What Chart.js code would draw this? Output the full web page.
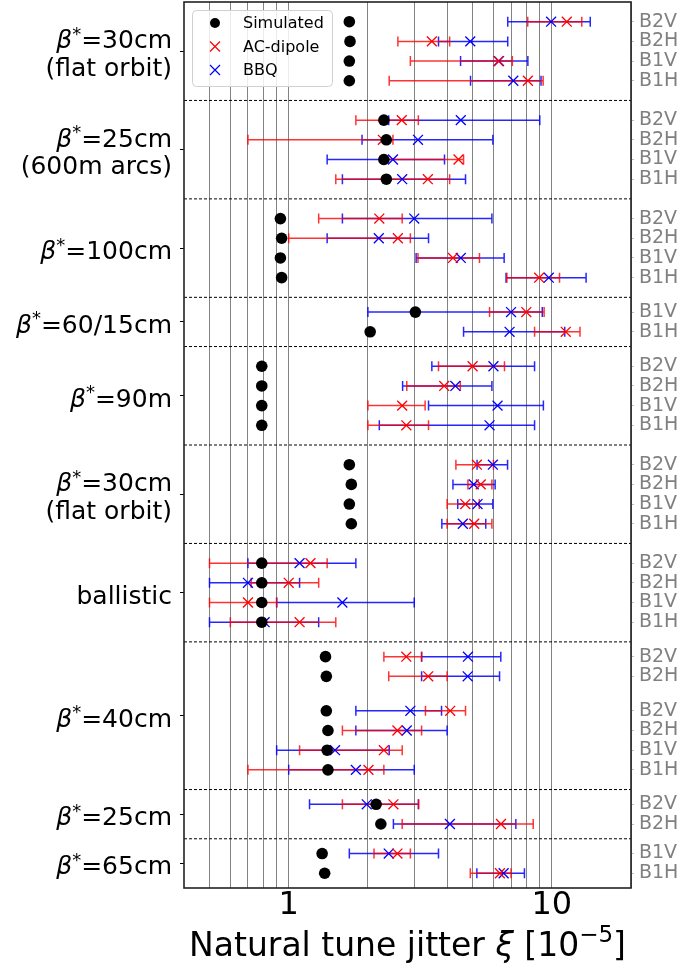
<!DOCTYPE html>
<html>
<head>
<meta charset="utf-8">
<script src="https://cdn.jsdelivr.net/npm/chart.js@4.4.1/dist/chart.umd.min.js"></script>
<style>
  html, body { margin: 0; padding: 0; background: #fff; }
  #wrap { width: 684px; height: 968px; }
</style>
</head>
<body>
<div id="wrap"><canvas id="jitterChart" width="684" height="968"></canvas></div>
<script>
// rows, top to bottom (y position in row units, 0 = top of the axes)
var rowPos = [1, 2, 3, 4, 6, 7, 8, 9, 11, 12, 13, 14, 15.75, 16.75,
  18.5, 19.5, 20.5, 21.5, 23.5, 24.5, 25.5, 26.5, 28.5, 29.5, 30.5, 31.5,
  33.25, 34.25, 36, 37, 38, 39, 40.75, 41.75, 43.25, 44.25];
var rowLabels = ['B2V', 'B2H', 'B1V', 'B1H', 'B2V', 'B2H', 'B1V', 'B1H',
  'B2V', 'B2H', 'B1V', 'B1H', 'B1V', 'B1H', 'B2V', 'B2H', 'B1V', 'B1H',
  'B2V', 'B2H', 'B1V', 'B1H', 'B2V', 'B2H', 'B1V', 'B1H',
  'B2V', 'B2H', 'B2V', 'B2H', 'B1V', 'B1H', 'B2V', 'B2H', 'B1V', 'B1H'];

var simulated = [1.70, 1.71, 1.70, 1.70, 2.30, 2.35, 2.30, 2.35,
  0.93, 0.94, 0.93, 0.94, 3.03, 2.04, 0.79, 0.79, 0.79, 0.79,
  1.70, 1.73, 1.70, 1.73, 0.79, 0.79, 0.79, 0.79,
  1.38, 1.39, 1.39, 1.41, 1.40, 1.41, 2.15, 2.24, 1.34, 1.37];

var acValue = [11.4, 3.50, 6.27, 8.11, 2.69, 2.28, 4.42, 3.38,
  2.21, 2.60, 4.21, 8.95, 8.0, 11.3, 5.0, 3.90, 2.70, 2.80,
  5.19, 5.37, 4.69, 5.07, 1.21, 1.0, 0.70, 1.10,
  2.80, 3.39, 4.11, 2.59, 2.30, 2.01, 2.50, 6.41, 2.59, 6.35];
var acLow = [8.1, 2.60, 2.90, 2.41, 1.80, 0.70, 2.26, 1.51,
  1.30, 1.0, 3.10, 6.75, 5.80, 8.6, 3.71, 2.81, 2.0, 2.0,
  4.32, 4.80, 4.0, 4.0, 0.5, 0.72, 0.5, 0.6,
  2.30, 2.40, 3.31, 1.60, 1.10, 0.70, 1.60, 2.70, 2.11, 4.90];
var acHigh = [13.0, 4.09, 7.08, 9.27, 3.11, 2.49, 4.62, 4.09,
  2.70, 2.90, 5.31, 10.7, 9.35, 12.8, 6.61, 4.49, 3.30, 3.40,
  6.0, 5.92, 5.3, 5.92, 1.40, 1.30, 0.90, 1.51,
  3.20, 4.0, 4.70, 3.20, 2.70, 2.30, 3.12, 8.50, 2.90, 7.0];

var bbqValue = [9.94, 4.90, 6.30, 7.14, 4.51, 3.10, 2.49, 2.70,
  3.0, 2.20, 4.51, 9.74, 7.0, 6.91, 6.0, 4.30, 6.22, 5.80,
  5.97, 5.05, 5.22, 4.59, 1.10, 0.70, 1.60, 0.81,
  4.80, 4.79, 2.90, 2.81, 1.50, 1.80, 1.98, 4.10, 2.40, 6.56];
var bbqLow = [6.8, 3.71, 4.50, 4.91, 2.40, 1.90, 1.40, 1.60,
  1.60, 1.40, 3.05, 6.70, 2.0, 4.62, 3.50, 2.71, 3.40, 2.21,
  5.2, 4.21, 4.39, 3.82, 0.70, 0.5, 0.90, 0.5,
  3.20, 3.20, 1.80, 1.80, 0.90, 1.0, 1.20, 2.50, 1.70, 5.19];
var bbqHigh = [14.0, 6.80, 8.11, 9.10, 9.0, 5.97, 3.91, 4.70,
  5.92, 3.40, 6.59, 13.5, 9.2, 11.2, 8.6, 5.92, 9.29, 8.6,
  6.79, 6.09, 5.97, 5.61, 1.80, 1.10, 3.0, 1.30,
  6.40, 6.33, 3.81, 4.0, 2.41, 3.0, 3.11, 7.30, 3.71, 7.87];

// settings, grouped on the left axis
var groupLabels = [['β*=30cm', '(flat orbit)'], ['β*=25cm', '(600m arcs)'],
  ['β*=100cm'], ['β*=60/15cm'], ['β*=90m'], ['β*=30cm', '(flat orbit)'],
  ['ballistic'], ['β*=40cm'], ['β*=25cm'], ['β*=65cm']];
var groupPos = [2.5, 7.5, 12.5, 16.25, 20, 25, 30, 36.25, 41.25, 43.75];
var separators = [5, 10, 15, 17.5, 22.5, 27.5, 32.5, 40, 42.5];

var xGridTicks = [0.5, 0.6, 0.7, 0.8, 0.9, 1, 2, 3, 4, 5, 6, 7, 8, 9, 10, 20];
var xTickLabels = { 1: '1', 10: '10' };

var FONT = '"DejaVu Sans"';
Chart.defaults.font.family = FONT;

function toPoints(xs) {
  return xs.map(function(v, i) { return { x: v, y: rowPos[i] }; });
}

// "β*=..." text with italic beta and superscript star
function richParts(text, size) {
  if (text.indexOf('β*') === 0) {
    return [
      { t: 'β', font: 'italic ' + size + 'px ' + FONT, rise: 0 },
      { t: '*', font: Math.round(size * 0.7) + 'px ' + FONT, rise: size * 0.34 },
      { t: text.slice(2), font: size + 'px ' + FONT, rise: 0 }
    ];
  }
  return [{ t: text, font: size + 'px ' + FONT, rise: 0 }];
}

function drawParts(ctx, parts, x, y, align) {
  var total = 0;
  parts.forEach(function(p) { ctx.font = p.font; p.w = ctx.measureText(p.t).width; total += p.w; });
  var cx = align === 'right' ? x - total : (align === 'center' ? x - total / 2 : x);
  ctx.textBaseline = 'alphabetic';
  ctx.textAlign = 'left';
  parts.forEach(function(p) {
    ctx.font = p.font;
    ctx.fillText(p.t, cx, y - p.rise);
    cx += p.w;
  });
}

function noPad(scale) {
  scale.paddingTop = 0;
  scale.paddingBottom = 0;
}

var decorations = {
  id: 'decorations',
  beforeDatasetsDraw: function(chart) {
    var ctx = chart.ctx, xs = chart.scales.x, ys = chart.scales.y, area = chart.chartArea;
    ctx.save();
    ctx.beginPath();
    ctx.rect(area.left, area.top, area.right - area.left, area.bottom - area.top);
    ctx.clip();

    // dashed separators between settings
    ctx.strokeStyle = '#000';
    ctx.lineWidth = 1;
    ctx.setLineDash([3, 2]);
    separators.forEach(function(s) {
      var py = ys.getPixelForValue(s);
      ctx.beginPath();
      ctx.moveTo(area.left, py);
      ctx.lineTo(area.right, py);
      ctx.stroke();
    });
    ctx.setLineDash([]);

    // error bars, BBQ first then AC-dipole on top
    function bars(lo, hi, color) {
      ctx.strokeStyle = color;
      ctx.lineWidth = 1.5;
      for (var i = 0; i < rowPos.length; i++) {
        if (lo[i] == null) continue;
        var py = ys.getPixelForValue(rowPos[i]);
        var x1 = xs.getPixelForValue(lo[i]);
        var x2 = xs.getPixelForValue(hi[i]);
        ctx.beginPath();
        ctx.moveTo(x1, py); ctx.lineTo(x2, py);
        ctx.moveTo(x1, py - 5); ctx.lineTo(x1, py + 5);
        ctx.moveTo(x2, py - 5); ctx.lineTo(x2, py + 5);
        ctx.stroke();
      }
    }
    bars(bbqLow, bbqHigh, 'rgba(0,0,255,0.85)');
    bars(acLow, acHigh, 'rgba(255,0,0,0.8)');
    ctx.restore();
  },
  afterDraw: function(chart) {
    var ctx = chart.ctx, ys = chart.scales.y, area = chart.chartArea;
    ctx.save();

    // frame
    ctx.strokeStyle = '#222';
    ctx.lineWidth = 1.6;
    ctx.strokeRect(area.left, area.top, area.right - area.left, area.bottom - area.top);

    // left group labels
    ctx.fillStyle = '#000';
    groupLabels.forEach(function(lines, g) {
      var c = ys.getPixelForValue(groupPos[g]);
      var base = lines.length === 1 ? c + 11 : c - 3;
      lines.forEach(function(line, k) {
        drawParts(ctx, richParts(line, 25), 172, base + k * 27.5, 'right');
      });
    });

    // x axis title
    drawParts(ctx, [
      { t: 'Natural tune jitter ', font: '33px ' + FONT, rise: 0 },
      { t: 'ξ', font: 'italic 33px ' + FONT, rise: 0 },
      { t: ' [10', font: '33px ' + FONT, rise: 0 },
      { t: '−5', font: '23px ' + FONT, rise: 13.7 },
      { t: ']', font: '33px ' + FONT, rise: 0 }
    ], (area.left + area.right) / 2, 956, 'center');

    // legend
    var lx = 192, ly = 10, lw = 140, lh = 76;
    ctx.fillStyle = 'rgba(255,255,255,0.85)';
    ctx.strokeStyle = '#d0d0d0';
    ctx.lineWidth = 1;
    ctx.beginPath();
    ctx.roundRect(lx + 0.5, ly + 0.5, lw, lh, 4);
    ctx.fill();
    ctx.stroke();
    chart.data.datasets.forEach(function(ds, i) {
      var my = 23 + i * 23.5;
      var mx = 215;
      if (ds.pointStyle === 'circle') {
        ctx.fillStyle = '#000';
        ctx.beginPath();
        ctx.arc(mx, my, 5, 0, Math.PI * 2);
        ctx.fill();
      } else {
        ctx.strokeStyle = ds.borderColor;
        ctx.lineWidth = 1.2;
        ctx.beginPath();
        ctx.moveTo(mx - 5, my - 5); ctx.lineTo(mx + 5, my + 5);
        ctx.moveTo(mx - 5, my + 5); ctx.lineTo(mx + 5, my - 5);
        ctx.stroke();
      }
      ctx.fillStyle = '#000';
      ctx.font = '16px ' + FONT;
      ctx.textAlign = 'left';
      ctx.textBaseline = 'middle';
      ctx.fillText(ds.label, 243, my + 1);
    });
    ctx.restore();
  }
};

var ctx = document.getElementById('jitterChart').getContext('2d');
new Chart(ctx, {
  type: 'scatter',
  data: {
    datasets: [{
      label: 'Simulated',
      data: toPoints(simulated),
      pointStyle: 'circle',
      pointRadius: 5.8,
      backgroundColor: '#000',
      borderColor: '#000',
      borderWidth: 0
    }, {
      label: 'AC-dipole',
      data: toPoints(acValue),
      pointStyle: 'crossRot',
      pointRadius: 7,
      borderColor: '#ff0000',
      borderWidth: 1.3
    }, {
      label: 'BBQ',
      data: toPoints(bbqValue),
      pointStyle: 'crossRot',
      pointRadius: 7,
      borderColor: '#0000ff',
      borderWidth: 1.3
    }]
  },
  options: {
    responsive: false,
    animation: false,
    events: [],
    layout: { autoPadding: false, padding: { top: 2, left: 0, right: 0, bottom: 0 } },
    plugins: { legend: { display: false }, tooltip: { enabled: false } },
    scales: {
      x: {
        type: 'logarithmic',
        min: 0.4,
        max: 20,
        afterBuildTicks: function(scale) {
          scale.ticks = xGridTicks.map(function(v) { return { value: v }; });
        },
        afterFit: function(scale) { scale.height = 80; scale.paddingLeft = 0; scale.paddingRight = 0; },
        border: { display: false },
        grid: { color: 'rgba(100,100,100,0.8)', lineWidth: 1, drawTicks: false },
        ticks: {
          autoSkip: false,
          maxRotation: 0,
          padding: -2,
          color: '#000',
          font: { size: 32 },
          callback: function(v) { return xTickLabels[v] || ''; }
        }
      },
      y: {
        type: 'linear',
        position: 'left',
        min: 0,
        max: 45,
        reverse: true,
        afterBuildTicks: function(scale) {
          scale.ticks = groupPos.map(function(v) { return { value: v }; });
        },
        afterFit: function(scale) { scale.width = 184; noPad(scale); },
        border: { display: false },
        grid: { drawOnChartArea: false, drawTicks: true, tickLength: 4, color: '#000' },
        ticks: { display: false }
      },
      y2: {
        type: 'linear',
        position: 'right',
        min: 0,
        max: 45,
        reverse: true,
        afterBuildTicks: function(scale) {
          scale.ticks = rowPos.map(function(v) { return { value: v }; });
        },
        afterFit: function(scale) { scale.width = 53; noPad(scale); },
        border: { display: false },
        grid: { drawOnChartArea: false, drawTicks: true, tickLength: 3, color: '#bbb' },
        ticks: {
          autoSkip: false,
          padding: 5,
          color: '#808080',
          font: { size: 19 },
          callback: function(v, i) { return rowLabels[i]; }
        }
      }
    }
  },
  plugins: [decorations]
});
</script>
</body>
</html>
